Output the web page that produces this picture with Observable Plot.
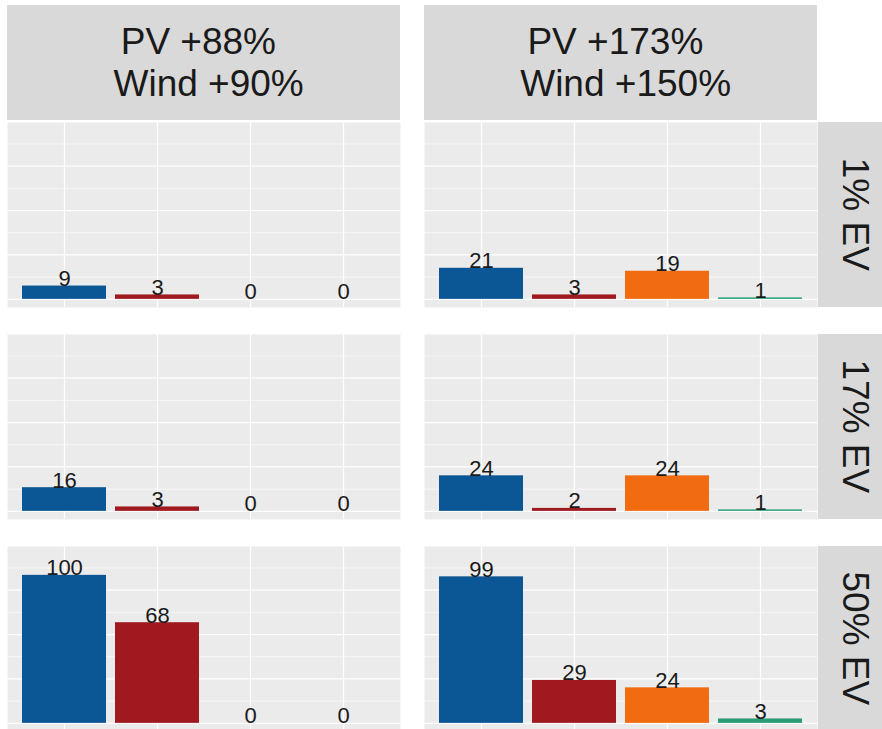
<!DOCTYPE html>
<html>
<head>
<meta charset="utf-8">
<script src="https://cdn.jsdelivr.net/npm/d3@7"></script>
<script src="https://cdn.jsdelivr.net/npm/@observablehq/plot@0.6"></script>
<style>
  body { margin: 0; background: #fff; font-family: "Liberation Sans", Arial, sans-serif; }
  #chart { position: relative; width: 882px; height: 729px; overflow: hidden; background: #fff; }
  .panel { position: absolute; }
  .panel svg { display: block; }
  .strip { position: absolute; background: #d9d9d9; color: #1a1a1a; font-size: 37px;
           display: flex; align-items: center; justify-content: center; }
  .strip-top { white-space: pre; text-align: center; line-height: 42px; }
  .strip-right span { display: inline-block; transform: rotate(90deg); white-space: nowrap; line-height: 1.1; }
</style>
</head>
<body>
<div id="chart"></div>
<script>
// ---- data ----
const colLabels = ["PV +88% \n Wind +90%", "PV +173% \n Wind +150%"];
const rowLabels = ["1% EV", "17% EV", "50% EV"];
const categories = ["A", "B", "C", "D"];
const valuesPV88  = [[9, 3, 0, 0], [16, 3, 0, 0], [100, 68, 0, 0]];
const valuesPV173 = [[21, 3, 19, 1], [24, 2, 24, 1], [99, 29, 24, 3]];
const majorTicks = [0, 30, 60, 90];
const minorTicks = [15, 45, 75, 105];

// ---- styling / layout ----
const palette = ["#0b5796", "#a0191e", "#f16b10", "#2a9d78"];
const colValues = [valuesPV88, valuesPV173];
const colX = [7, 424];
const rowY = [122, 334, 546];
const panelW = 393, panelH = 185;
const chart = document.getElementById("chart");

colLabels.forEach((lab, c) => {
  const s = document.createElement("div");
  s.className = "strip strip-top";
  Object.assign(s.style, {left: colX[c] + "px", top: "5px", width: panelW + "px", height: "115px"});
  s.textContent = lab;
  chart.appendChild(s);
});

rowLabels.forEach((lab, r) => {
  const s = document.createElement("div");
  s.className = "strip strip-right";
  Object.assign(s.style, {left: "818px", top: rowY[r] + "px", width: "74px", height: panelH + "px"});
  const sp = document.createElement("span");
  sp.textContent = lab;
  s.appendChild(sp);
  chart.appendChild(s);
});

colValues.forEach((vals, c) => {
  rowLabels.forEach((rl, r) => {
    const data = categories.map((cat, i) => ({cat, value: vals[r][i]}));
    const svg = Plot.plot({
      width: panelW,
      height: panelH,
      margin: 0,
      style: {fontFamily: "Liberation Sans, Arial, sans-serif", overflow: "visible", background: "transparent"},
      x: {domain: categories, paddingInner: 0.1, paddingOuter: 0.15, axis: null},
      y: {domain: [-5.5, 119.5], axis: null},
      color: {domain: categories, range: palette},
      marks: [
        Plot.frame({fill: "#ebebeb", stroke: null}),
        Plot.ruleY(minorTicks, {stroke: "#fff", strokeWidth: 0.6}),
        Plot.ruleY(majorTicks, {stroke: "#fff", strokeWidth: 1.2}),
        Plot.ruleX(categories, {x: d => d, stroke: "#fff", strokeWidth: 1.2}),
        Plot.barY(data, {x: "cat", y: "value", fill: "cat"}),
        Plot.text(data, {x: "cat", y: "value", text: d => String(d.value), lineAnchor: "bottom",
                         fontSize: 22, fill: "#1a1a1a"})
      ]
    });
    const wrap = document.createElement("div");
    wrap.className = "panel";
    Object.assign(wrap.style, {left: colX[c] + "px", top: rowY[r] + "px"});
    wrap.appendChild(svg);
    chart.appendChild(wrap);
  });
});
</script>
</body>
</html>
